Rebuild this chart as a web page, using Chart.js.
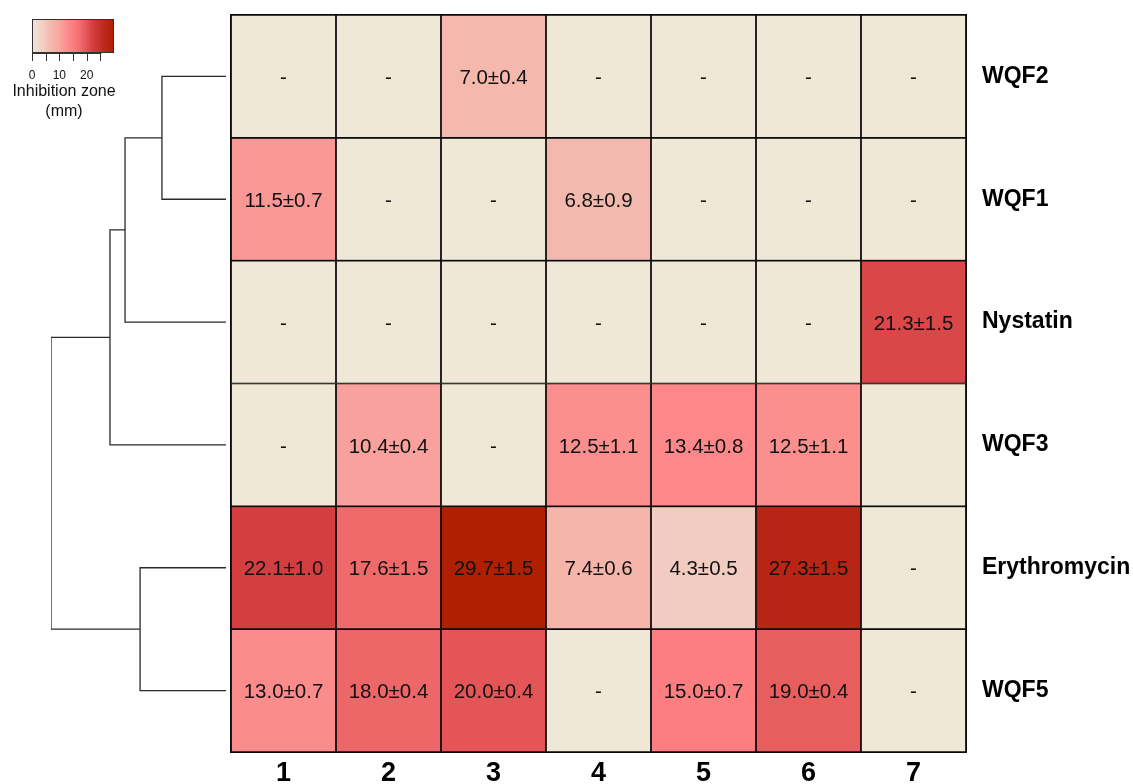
<!DOCTYPE html>
<html>
<head>
<meta charset="utf-8">
<script src="https://cdn.jsdelivr.net/npm/chart.js@4.4.1/dist/chart.umd.min.js"></script>
<style>
  body { margin: 0; background: #fff; }
  #wrap { position: relative; width: 1133px; height: 784px; overflow: hidden; }
  canvas { position: absolute; left: 0; top: 0; }
</style>
</head>
<body>
<div id="wrap">
  <canvas id="heat" width="1133" height="784"></canvas>
  <canvas id="tree" width="231" height="784"></canvas>
</div>
<script>
// Columns and rows of the heatmap (rows in dendrogram order, top to bottom)
const colNames = ['1', '2', '3', '4', '5', '6', '7'];
const rowNames = ['WQF2', 'WQF1', 'Nystatin', 'WQF3', 'Erythromycin', 'WQF5'];

// Inhibition zone (mm), mean±sd as printed in each cell; '-' = no zone
const zoneWQF2 = ['-', '-', '7.0±0.4', '-', '-', '-', '-'];
const zoneWQF1 = ['11.5±0.7', '-', '-', '6.8±0.9', '-', '-', '-'];
const zoneNystatin = ['-', '-', '-', '-', '-', '-', '21.3±1.5'];
const zoneWQF3 = ['-', '10.4±0.4', '-', '12.5±1.1', '13.4±0.8', '12.5±1.1', ''];
const zoneErythromycin = ['22.1±1.0', '17.6±1.5', '29.7±1.5', '7.4±0.6', '4.3±0.5', '27.3±1.5', '-'];
const zoneWQF5 = ['13.0±0.7', '18.0±0.4', '20.0±0.4', '-', '15.0±0.7', '19.0±0.4', '-'];
const zoneRows = [zoneWQF2, zoneWQF1, zoneNystatin, zoneWQF3, zoneErythromycin, zoneWQF5];

// Dendrogram merges: [left node, right node, height]; leaves are 0..5, merges 6..
const treeMerges = [
    [0, 1, 0.366],
    [6, 2, 0.577],
    [7, 3, 0.663],
    [4, 5, 0.491],
    [8, 9, 1.0]
];

// Legend ticks
const legendTicks = [0, 5, 10, 15, 20, 25];
const legendLabels = [0, 10, 20];
const legendMax = 30;

// colour scale stops [value, colour]
const colorStops = [
    [0, [239, 232, 214]],
    [4.3, [242, 204, 192]],
    [7, [244, 184, 173]],
    [10.4, [249, 162, 157]],
    [13, [252, 139, 139]],
    [15, [253, 126, 128]],
    [17.6, [240, 106, 108]],
    [20, [227, 85, 86]],
    [22, [212, 63, 65]],
    [27.3, [185, 37, 20]],
    [30, [174, 30, 0]]
];

function colorFor(v) {
    if (v <= colorStops[0][0]) return 'rgb(' + colorStops[0][1].join(',') + ')';
    for (let i = 1; i < colorStops.length; i++) {
        const [v1, c1] = colorStops[i];
        if (v <= v1) {
            const [v0, c0] = colorStops[i - 1];
            const t = (v - v0) / (v1 - v0);
            const c = c0.map((a, k) => Math.round(a + (c1[k] - a) * t));
            return 'rgb(' + c.join(',') + ')';
        }
    }
    return 'rgb(' + colorStops[colorStops.length - 1][1].join(',') + ')';
}

function valueOf(text) {
    const v = parseFloat(text);
    return isNaN(v) ? 0 : v;
}

const FONT = "'Liberation Sans', Arial, Helvetica, sans-serif";

// each row is one dataset of floating bars spanning its own row band
const heatDatasets = zoneRows.map((row, r) => ({
    label: rowNames[r],
    data: colNames.map(() => [r + 0.5, r + 1.5]),
    backgroundColor: row.map(t => colorFor(valueOf(t))),
    borderColor: '#0a0a0a',
    borderWidth: 1.2,
    borderSkipped: false,
    grouped: false,
    barPercentage: 1,
    categoryPercentage: 1,
    cellText: row
}));

const cellTextPlugin = {
    id: 'cellText',
    afterDatasetsDraw(chart) {
        const ctx = chart.ctx;
        ctx.save();
        ctx.font = '20.5px ' + FONT;
        ctx.fillStyle = '#111';
        ctx.textAlign = 'center';
        ctx.textBaseline = 'middle';
        chart.data.datasets.forEach((ds, i) => {
            chart.getDatasetMeta(i).data.forEach((el, j) => {
                ctx.fillText(ds.cellText[j], el.x, (el.y + el.base) / 2 + 2);
            });
        });
        // outer frame
        const a = chart.chartArea;
        ctx.strokeStyle = '#0a0a0a';
        ctx.lineWidth = 1;
        ctx.strokeRect(a.left - 0.5, a.top - 0.5, a.right - a.left + 1, a.bottom - a.top + 1);
        ctx.restore();
    }
};

function noEndPadding(scale) {
    scale.paddingTop = 0;
    scale.paddingBottom = 0;
    scale.paddingLeft = 0;
    scale.paddingRight = 0;
}

new Chart(document.getElementById('heat'), {
    type: 'bar',
    data: { labels: colNames, datasets: heatDatasets },
    options: {
        responsive: false,
        animation: false,
        devicePixelRatio: 1,
        layout: { padding: { left: 231, top: 15, right: 0, bottom: 0 } },
        plugins: { legend: { display: false }, tooltip: { enabled: false } },
        scales: {
            x: {
                grid: { display: false, drawTicks: false },
                border: { display: false },
                ticks: { color: '#000', padding: 5, font: { family: FONT, size: 27, weight: 'bold' } },
                afterFit(scale) { scale.height = 32; noEndPadding(scale); }
            },
            y: {
                position: 'right',
                min: 0.5,
                max: 6.5,
                reverse: true,
                grid: { display: false, drawTicks: false },
                border: { display: false },
                afterBuildTicks(scale) { scale.ticks = rowNames.map((n, i) => ({ value: i + 1 })); },
                ticks: {
                    color: '#000',
                    padding: 16,
                    font: { family: FONT, size: 23, weight: 'bold' },
                    callback: (v) => rowNames[Math.round(v) - 1]
                },
                afterFit(scale) { scale.width = 167; noEndPadding(scale); }
            }
        }
    },
    plugins: [cellTextPlugin]
});

// build dendrogram segments from the merges
const nodeY = rowNames.map((n, i) => i + 1);
const nodeH = rowNames.map(() => 0);
const treeDatasets = treeMerges.map(([a, b, h]) => {
    const ds = {
        data: [
            { x: nodeH[a], y: nodeY[a] },
            { x: h, y: nodeY[a] },
            { x: h, y: nodeY[b] },
            { x: nodeH[b], y: nodeY[b] }
        ],
        showLine: true,
        borderColor: '#2a2a2a',
        borderWidth: 1.3,
        pointRadius: 0,
        tension: 0
    };
    nodeY.push((nodeY[a] + nodeY[b]) / 2);
    nodeH.push(h);
    return ds;
});

const colorLegendPlugin = {
    id: 'colorLegend',
    afterDraw(chart) {
        const ctx = chart.ctx;
        const x0 = 32, x1 = 114, y0 = 19, y1 = 53;
        const px = v => x0 + (x1 - x0) * v / legendMax;
        ctx.save();
        const grad = ctx.createLinearGradient(x0, 0, x1, 0);
        for (let v = 0; v <= legendMax; v += 1) grad.addColorStop(v / legendMax, colorFor(v));
        ctx.fillStyle = grad;
        ctx.fillRect(x0, y0, x1 - x0, y1 - y0);
        ctx.strokeStyle = '#333';
        ctx.lineWidth = 1;
        ctx.strokeRect(x0 + 0.5, y0 + 0.5, x1 - x0 - 1, y1 - y0 - 1);
        ctx.beginPath();
        legendTicks.forEach(v => {
            const x = Math.round(px(v)) + 0.5;
            ctx.moveTo(x, y1);
            ctx.lineTo(x, y1 + 8);
        });
        ctx.moveTo(x0, y1 + 0.5);
        ctx.lineTo(px(25) + 1, y1 + 0.5);
        ctx.stroke();
        ctx.fillStyle = '#111';
        ctx.textAlign = 'center';
        ctx.textBaseline = 'middle';
        ctx.font = '12px ' + FONT;
        legendLabels.forEach(v => ctx.fillText(String(v), px(v), 76));
        ctx.font = '16px ' + FONT;
        ctx.fillText('Inhibition zone', 64, 92);
        ctx.fillText('(mm)', 64, 112);
        ctx.restore();
    }
};

new Chart(document.getElementById('tree'), {
    type: 'scatter',
    data: { datasets: treeDatasets },
    options: {
        responsive: false,
        animation: false,
        devicePixelRatio: 1,
        layout: { padding: { left: 51, right: 5, top: 15, bottom: 32 } },
        plugins: { legend: { display: false }, tooltip: { enabled: false } },
        scales: {
            x: { type: 'linear', display: false, reverse: true, min: 0, max: 1 },
            y: { type: 'linear', display: false, reverse: true, min: 0.5, max: 6.5 }
        }
    },
    plugins: [colorLegendPlugin]
});
</script>
</body>
</html>
